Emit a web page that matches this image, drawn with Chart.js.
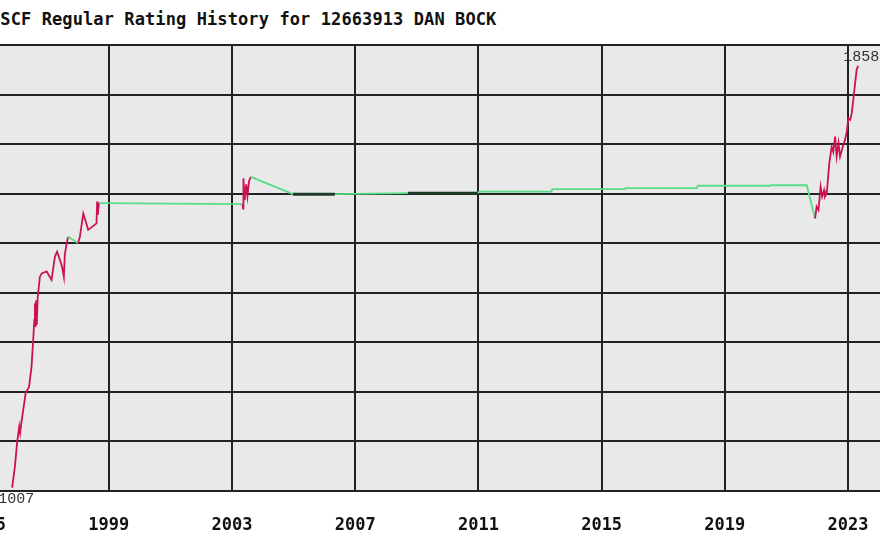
<!DOCTYPE html>
<html lang="en">
<head>
  <meta charset="UTF-8">
  <title>USCF Regular Rating History</title>
  <style>
    html, body {
      margin: 0;
      padding: 0;
      background: #fff;
      overflow: hidden;
      width: 880px;
      height: 550px;
    }
    #title {
      position: absolute;
      left: -10px;
      top: 9px;
      font-family: "DejaVu Sans Mono", monospace;
      font-weight: bold;
      font-size: 17px;
      letter-spacing: 0.1px;
      color: #111;
      white-space: nowrap;
    }
    #wrap {
      position: absolute;
      left: -100px;
      top: 0;
    }
  </style>
  <script src="https://cdn.jsdelivr.net/npm/chart.js"></script>
</head>
<body>
  <div id="title">USCF Regular Rating History for 12663913 DAN BOCK</div>
  <div id="wrap"><canvas id="ratingChart" width="1000" height="550"></canvas></div>

  <script>
    // rating history: date (decimal year), rating, kind of line leaving that point
    // r = active, g = inactive gap, d = flat dark stretch
    const years = [
      1995.86, 1995.95, 1996.02, 1996.09, 1996.12, 1996.15, 1996.30, 1996.41, 1996.49, 1996.54,
      1996.58, 1996.60, 1996.62, 1996.64, 1996.66, 1996.69, 1996.71, 1996.76, 1996.82, 1996.98,
      1997.14, 1997.25, 1997.32, 1997.43, 1997.49, 1997.54, 1997.57, 1997.63, 1997.68, 1998.00,
      1998.06, 1998.17, 1998.22, 1998.33, 1998.60, 1998.62, 1998.64, 1998.68,
      2003.34, 2003.36, 2003.37, 2003.41, 2003.46, 2003.50, 2003.55, 2003.61,
      2004.98, 2006.34, 2008.71, 2010.99, 2011.02, 2013.37, 2013.40, 2015.75, 2015.78, 2018.09,
      2018.12, 2020.47, 2020.50, 2021.66,
      2021.93, 2021.98, 2022.04, 2022.11, 2022.16, 2022.22, 2022.25, 2022.31, 2022.39, 2022.47,
      2022.52, 2022.58, 2022.63, 2022.69, 2022.74, 2022.83, 2022.90, 2022.96, 2023.01, 2023.07,
      2023.12, 2023.17, 2023.23, 2023.28, 2023.33
    ];
    const ratings = [
      1007, 1049, 1097, 1130, 1117, 1133, 1198, 1210, 1251, 1301,
      1345, 1379, 1331, 1385, 1335, 1391, 1402, 1432, 1439, 1443,
      1426, 1473, 1483, 1463, 1450, 1432, 1476, 1500, 1513, 1500,
      1513, 1560, 1550, 1527, 1540, 1584, 1557, 1581,
      1579, 1570, 1631, 1587, 1619, 1595, 1625, 1634,
      1599, 1599, 1601, 1601, 1604, 1604, 1609, 1609, 1611, 1611,
      1616, 1616, 1617, 1617,
      1550, 1574, 1567, 1614, 1594, 1607, 1594, 1601, 1661, 1695,
      1684, 1715, 1675, 1702, 1675, 1695, 1708, 1725, 1752, 1749,
      1762, 1789, 1823, 1850, 1858
    ];
    const segKind = [
      'r','r','r','r','r','r','r','r','r','r',
      'r','r','r','r','r','r','r','r','r','r',
      'r','r','r','r','r','r','r','r','g','r',
      'r','r','r','r','r','r','r','g',
      'r','r','r','r','r','r','r','g',
      'd','g','d','g','g','g','g','g','g','g',
      'g','g','g','g',
      'r','r','r','r','r','r','r','r','r','r',
      'r','r','r','r','r','r','r','r','r','r',
      'r','r','r','r','r'
    ];
    const tickYears = [1995, 1999, 2003, 2007, 2011, 2015, 2019, 2023];

    const colors = { r: '#cc1155', g: '#55dd88', d: '#1e3a28' };

    const points = years.map((y, i) => ({ x: y, y: ratings[i] }));

    const plotBg = {
      id: 'plotBg',
      beforeDraw(chart) {
        const a = chart.chartArea;
        const c = chart.ctx;
        c.save();
        c.fillStyle = '#e9e9e9';
        c.fillRect(a.left, a.top, a.right - a.left, a.bottom - a.top);
        c.restore();
      }
    };

    const extremes = {
      id: 'extremes',
      afterDatasetsDraw(chart) {
        const c = chart.ctx;
        const xs = chart.scales.x, ys = chart.scales.y;
        const lo = ratings.indexOf(Math.min(...ratings));
        const hi = ratings.indexOf(Math.max(...ratings));
        c.save();
        c.font = '15px "Liberation Mono", monospace';
        c.fillStyle = '#333';
        c.textAlign = 'center';
        c.textBaseline = 'top';
        c.fillText(String(ratings[lo]), xs.getPixelForValue(years[lo]) + 4, chart.chartArea.bottom + 1);
        c.textBaseline = 'bottom';
        c.fillText(String(ratings[hi]), xs.getPixelForValue(years[hi]) + 3, ys.getPixelForValue(ratings[hi]) - 1);
        c.restore();
      }
    };

    new Chart(document.getElementById('ratingChart'), {
      type: 'line',
      data: {
        datasets: [{
          data: points,
          borderWidth: 1.8,
          pointRadius: 0,
          tension: 0,
          borderColor: colors.r,
          segment: {
            borderColor: ctx => colors[segKind[ctx.p0DataIndex]],
            borderWidth: ctx => segKind[ctx.p0DataIndex] === 'd' ? 3 : 1.8
          }
        }]
      },
      options: {
        responsive: false,
        animation: false,
        layout: { padding: { left: 61, right: 15, top: 45, bottom: 0 } },
        plugins: {
          legend: { display: false },
          tooltip: { enabled: false }
        },
        scales: {
          x: {
            type: 'linear',
            min: 1994.2,
            max: 2024.2,
            afterBuildTicks: scale => { scale.ticks = tickYears.map(v => ({ value: v })); },
            afterFit: scale => { scale.height = 59; },
            grid: { color: '#222', lineWidth: 2, drawTicks: false },
            border: { color: '#222', width: 2 },
            ticks: {
              autoSkip: false,
              maxRotation: 0,
              padding: 24,
              color: '#111',
              font: { family: '"DejaVu Sans Mono", monospace', weight: 'bold', size: 17 },
              callback: v => String(v)
            }
          },
          y: {
            min: 1000,
            max: 1900,
            afterFit: scale => { scale.width = 0; },
            grid: { color: '#222', lineWidth: 2, drawTicks: false },
            border: { display: false },
            ticks: { display: false, stepSize: 100 }
          }
        }
      },
      plugins: [plotBg, extremes]
    });
  </script>
</body>
</html>
